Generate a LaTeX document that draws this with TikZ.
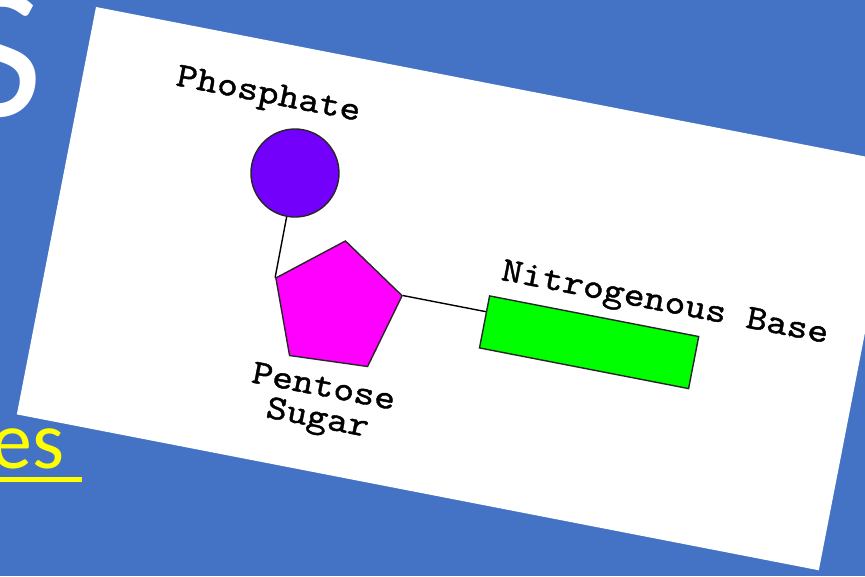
\documentclass[tikz,border=0pt]{standalone}
\usepackage{fontspec}
\newfontfamily\slidefont{Carlito}
\newfontfamily\labelfont[FakeStretch=1.14,FakeBold=1.2]{lmmono10-regular.otf}
\usetikzlibrary{shapes.geometric}
\definecolor{slideblue}{RGB}{68,114,196}
\definecolor{phoscol}{RGB}{114,0,250}
\definecolor{sugarcol}{RGB}{255,0,255}
\definecolor{basecol}{RGB}{0,255,0}
\definecolor{linkcol}{RGB}{255,255,0}

\begin{document}
\begin{tikzpicture}[x=1pt,y=1pt,
  lbl/.style={font=\labelfont\fontsize{34.7}{31.5}\selectfont, inner sep=0pt},
  part/.style={draw=black!85, line width=1.4pt, inner sep=0pt}]
\useasboundingbox (0,0) rectangle (865,576);
\fill[slideblue] (0,0) rectangle (865,576);
\node[anchor=base east, text=white, inner sep=0pt, font=\slidefont\fontsize{190}{190}\selectfont] (title) at (43,459) {S};
\node[anchor=base east, text=linkcol, inner sep=0pt, font=\slidefont\fontsize{82}{82}\selectfont] (link) at (65,107) {es};
\coordinate (ulstart) at (0,96);
\coordinate (ulend) at (82,96);
\draw[linkcol, line width=5pt] (ulstart) -- (ulend);
\begin{scope}[shift={(96,569)}, rotate=-11, transform shape]
  \fill[white] (0,0) rectangle (817,-415);
  \node[lbl] (phoslbl) at (186,-55) {Phosphate};
  \node[part, circle, fill=phoscol, minimum size=88pt] (phos) at (227,-125) {};
  \node[part, regular polygon, regular polygon sides=5, fill=sugarcol, minimum size=134pt, shape border rotate=3] (sugar) at (293,-249) {};
  \node[part, rectangle, fill=basecol, minimum width=213pt, minimum height=53pt] (base) at (548,-235) {};
  \node[lbl] (baselbl) at (615,-184) {Nitrogenous Base};
  \node[lbl, align=center] (sugarlbl) at (296,-348) {Pentose\\Sugar};
  \draw[line width=1.4pt] (phos) -- (sugar.corner 2);
  \draw[line width=1.4pt] (sugar.corner 5) -- (sugar.corner 5 -| base.west);
\end{scope}
\end{tikzpicture}
\end{document}
